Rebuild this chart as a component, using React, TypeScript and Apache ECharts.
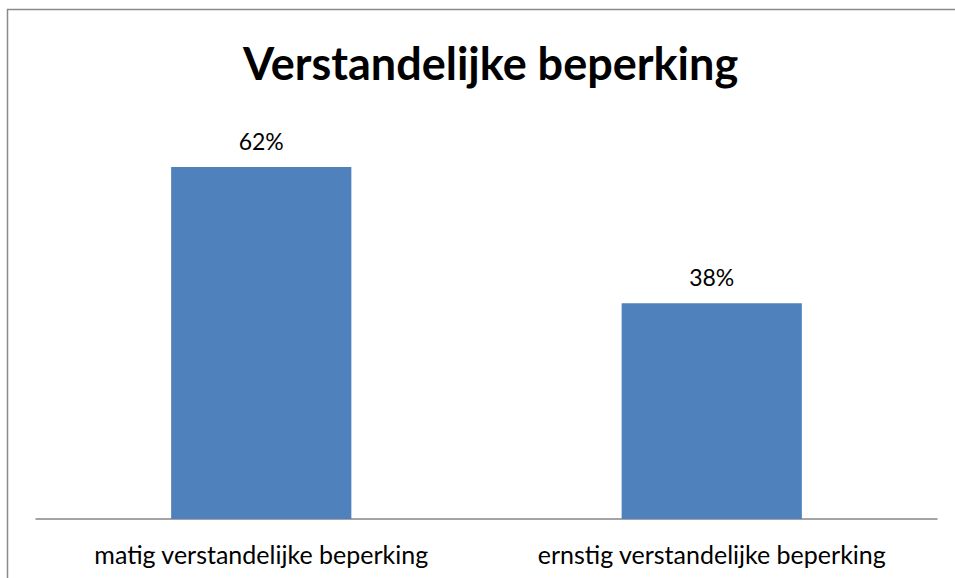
import React, { useEffect, useRef } from "react";
import * as echarts from "echarts";

const categories = ["matig verstandelijke beperking", "ernstig verstandelijke beperking"];
const values = [62, 38];
const titleText = "Verstandelijke beperking";

export default function App() {
  const ref = useRef<HTMLDivElement>(null);
  useEffect(() => {
    if (!ref.current) return;
    const chart = echarts.init(ref.current, undefined, { renderer: "svg" });
    chart.setOption({
      animation: false,
      backgroundColor: "#ffffff",
      title: {
        text: titleText,
        left: 243,
        top: 40,
        padding: 0,
        textStyle: { fontFamily: "Lato", fontWeight: "bold", fontSize: 45, color: "#000000" },
      },
      graphic: [
        {
          type: "rect",
          shape: { x: 7.5, y: 9.5, width: 1100, height: 1000 },
          style: { fill: "none", stroke: "#8a8a8a", lineWidth: 1.5 },
          silent: true,
        },
      ],
      grid: { left: 36, right: 18, top: 121.6, bottom: 59, containLabel: false },
      xAxis: {
        type: "category",
        data: categories,
        axisLine: { lineStyle: { color: "#868686", width: 1.5 } },
        axisTick: { show: false },
        axisLabel: {
          interval: 0,
          hideOverlap: false,
          fontFamily: "Lato",
          fontSize: 25,
          color: "#000000",
          margin: 22,
        },
      },
      yAxis: {
        type: "value",
        min: 0,
        max: 70,
        show: false,
        splitLine: { show: false },
      },
      series: [
        {
          type: "bar",
          data: values,
          barWidth: "40%",
          itemStyle: { color: "#4F81BD" },
          label: {
            show: true,
            position: "top",
            distance: 15,
            formatter: "{c}%",
            fontFamily: "Lato",
            fontSize: 23,
            color: "#000000",
          },
        },
      ],
    });
    return () => chart.dispose();
  }, []);
  return (
    <div
      ref={ref}
      style={{ position: "fixed", left: 0, top: 0, width: 955, height: 578 }}
    />
  );
}
